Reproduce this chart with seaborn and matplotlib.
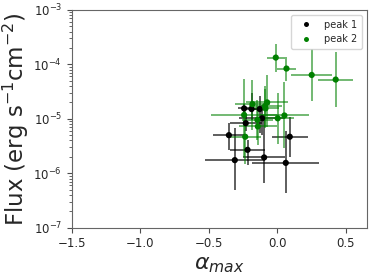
import numpy as np
import pandas as pd
import matplotlib
matplotlib.use("Agg")
import matplotlib.pyplot as plt
import seaborn as sns

# peak 1 (black)
p1_alpha = [-0.243, -0.189, -0.129, -0.112, -0.231, -0.354, -0.218, -0.311, -0.097, 0.061, 0.090]
p1_alpha_err = [0.045, 0.04, 0.05, 0.17, 0.115, 0.118, 0.127, 0.22, 0.155, 0.245, 0.13]
p1_flux = [1.55e-5, 1.51e-5, 1.51e-5, 1.02e-5, 0.83e-5, 0.50e-5, 0.269e-5, 0.174e-5, 0.195e-5, 0.155e-5, 0.468e-5]
p1_flux_lo = [0.32e-5, 0.56e-5, 0.97e-5, 0.51e-5, 0.24e-5, 0.23e-5, 0.128e-5, 0.125e-5, 0.129e-5, 0.112e-5, 0.27e-5]
p1_flux_hi = [0.31e-5, 1.44e-5, 1.06e-5, 0.80e-5, 0.34e-5, 0.35e-5, 0.14e-5, 0.49e-5, 0.98e-5, 0.43e-5, 0.63e-5]

# peak 2 (green)
p2_alpha = [-0.012, 0.066, 0.25, 0.425, -0.075, -0.090, -0.182, -0.243, -0.146, -0.143, 0.002, 0.051, -0.235, -0.087]
p2_alpha_err = [0.065, 0.068, 0.15, 0.13, 0.155, 0.12, 0.13, 0.24, 0.115, 0.14, 0.12, 0.18, 0.113, 0.10]
p2_flux = [13.3e-5, 8.36e-5, 6.38e-5, 5.25e-5, 2.0e-5, 1.72e-5, 1.86e-5, 1.175e-5, 0.955e-5, 0.724e-5, 1.02e-5, 1.15e-5, 0.468e-5, 1.55e-5]
p2_flux_lo = [6.0e-5, 3.44e-5, 4.22e-5, 3.63e-5, 1.28e-5, 1.0e-5, 1.24e-5, 0.975e-5, 0.55e-5, 0.39e-5, 0.68e-5, 0.86e-5, 0.32e-5, 0.86e-5]
p2_flux_hi = [10.1e-5, 5.5e-5, 12.5e-5, 11.7e-5, 4.46e-5, 2.22e-5, 3.27e-5, 4.3e-5, 1.28e-5, 0.76e-5, 2.0e-5, 3.64e-5, 0.98e-5, 1.92e-5]

labels = ["peak 1", "peak 2"]
x_ticks = [-1.5, -1.0, -0.5, 0.0, 0.5]

sns.set_theme(style="ticks")
plt.rcParams["font.family"] = ["DejaVu Sans"]

df = pd.DataFrame({
    "alpha": p1_alpha + p2_alpha,
    "flux": p1_flux + p2_flux,
    "peak": [labels[0]] * len(p1_alpha) + [labels[1]] * len(p2_alpha),
})

fig = plt.figure(figsize=(3.74, 2.74), dpi=100)
ax = fig.add_axes([0.192, 0.169, 0.788, 0.795])

colors = {"peak 1": "black", "peak 2": "green"}
ax.errorbar(p1_alpha, p1_flux, xerr=p1_alpha_err, yerr=[p1_flux_lo, p1_flux_hi],
            fmt="none", ecolor="black", elinewidth=1.1, alpha=0.8, zorder=2)
ax.errorbar(p2_alpha, p2_flux, xerr=p2_alpha_err, yerr=[p2_flux_lo, p2_flux_hi],
            fmt="none", ecolor="green", elinewidth=1.1, alpha=0.7, zorder=2)

sns.scatterplot(data=df, x="alpha", y="flux", hue="peak", palette=colors,
                s=20, edgecolor="none", ax=ax, zorder=3)

ax.set_yscale("log")
ax.set_xlim(-1.5, 0.65)
ax.set_ylim(1e-7, 1e-3)
ax.set_xticks(x_ticks)
ax.tick_params(axis="both", which="major", labelsize=8.5, length=3.5, width=0.8, color="0.3")
ax.tick_params(axis="y", which="minor", length=2, width=0.6, color="0.3")
for s in ax.spines.values():
    s.set_color("0.4")
    s.set_linewidth(0.8)

ax.set_xlabel(r"$\alpha_{max}$", fontsize=16, labelpad=3)
ax.set_ylabel(r"Flux (erg s$^{-1}$cm$^{-2}$)", fontsize=16.5, labelpad=2)

leg = ax.legend(loc="upper right", fontsize=7, frameon=True, markerscale=0.8,
                handletextpad=0.8, borderpad=0.5, labelspacing=0.5)
leg.get_frame().set_edgecolor("0.8")

fig.savefig("out.png", dpi=100)
